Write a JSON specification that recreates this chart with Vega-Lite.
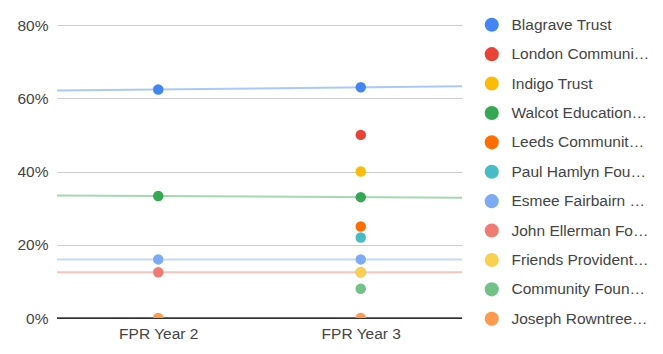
{
  "$schema": "https://vega.github.io/schema/vega-lite/v6.json",
  "autosize": "none",
  "width": 405,
  "height": 293,
  "padding": {"left": 57, "top": 25, "right": 201, "bottom": 36},
  "background": "white",
  "config": {
    "view": {"stroke": null},
    "font": "Liberation Sans",
    "axis": {"labelFont": "Liberation Sans", "labelColor": "#444444", "labelFontSize": 15.5, "ticks": false, "domain": false},
    "axisY": {"grid": true, "gridColor": "#cccccc", "gridWidth": 1},
    "axisX": {"grid": false}
  },
  "data": {
    "values": [
      {"series": "Blagrave Trust", "year": 2, "value": 0.624},
      {"series": "Blagrave Trust", "year": 3, "value": 0.63},
      {"series": "London Community Foundation", "year": 3, "value": 0.5},
      {"series": "Indigo Trust", "year": 3, "value": 0.4},
      {"series": "Walcot Educational Foundation", "year": 2, "value": 0.333},
      {"series": "Walcot Educational Foundation", "year": 3, "value": 0.33},
      {"series": "Leeds Community Foundation", "year": 3, "value": 0.25},
      {"series": "Paul Hamlyn Foundation", "year": 3, "value": 0.22},
      {"series": "Esmee Fairbairn Foundation", "year": 2, "value": 0.16},
      {"series": "Esmee Fairbairn Foundation", "year": 3, "value": 0.16},
      {"series": "John Ellerman Foundation", "year": 2, "value": 0.125},
      {"series": "John Ellerman Foundation", "year": 3, "value": 0.125},
      {"series": "Friends Provident Foundation", "year": 3, "value": 0.125},
      {"series": "Community Foundation Tyne & Wear", "year": 3, "value": 0.08},
      {"series": "Joseph Rowntree Charitable Trust", "year": 2, "value": 0},
      {"series": "Joseph Rowntree Charitable Trust", "year": 3, "value": 0}
    ]
  },
  "layer": [
    {
      "mark": {"type": "rule", "color": "#333333", "strokeWidth": 1},
      "encoding": {"y": {"datum": 0, "type": "quantitative"}}
    },
    {
      "transform": [
        {"filter": {"field": "series", "oneOf": ["Blagrave Trust", "Walcot Educational Foundation", "Esmee Fairbairn Foundation", "John Ellerman Foundation", "Joseph Rowntree Charitable Trust"]}},
        {"regression": "value", "on": "year", "groupby": ["series"], "extent": [1.5, 3.5]}
      ],
      "mark": {"type": "line", "strokeWidth": 2, "strokeOpacity": 0.45, "clip": true},
      "encoding": {
        "x": {"field": "year", "type": "quantitative"},
        "y": {"field": "value", "type": "quantitative"},
        "color": {"field": "series", "type": "nominal"},
        "detail": {"field": "series"}
      }
    },
    {
      "mark": {"type": "point", "filled": true, "opacity": 1, "size": 110, "clip": true},
      "encoding": {
        "x": {
          "field": "year", "type": "quantitative",
          "scale": {"domain": [1.5, 3.5], "nice": false, "zero": false},
          "axis": {"title": null, "values": [2, 3], "labelExpr": "'FPR Year ' + datum.value", "grid": false, "labelPadding": 8}
        },
        "y": {
          "field": "value", "type": "quantitative",
          "scale": {"domain": [0, 0.8], "nice": false},
          "axis": {"title": null, "format": ".0%", "values": [0, 0.2, 0.4, 0.6, 0.8], "grid": true, "labelPadding": 9}
        },
        "color": {
          "field": "series", "type": "nominal",
          "scale": {
            "domain": ["Blagrave Trust", "London Community Foundation", "Indigo Trust", "Walcot Educational Foundation", "Leeds Community Foundation", "Paul Hamlyn Foundation", "Esmee Fairbairn Foundation", "John Ellerman Foundation", "Friends Provident Foundation", "Community Foundation Tyne & Wear", "Joseph Rowntree Charitable Trust"],
            "range": ["#4285F4", "#EA4335", "#FBBC04", "#34A853", "#FF6D01", "#46BDC6", "#7BAAF7", "#F07B72", "#FCD04F", "#71C287", "#FF994D"]
          },
          "legend": {
            "title": null,
            "orient": "none",
            "legendX": 427,
            "legendY": -8,
            "symbolType": "circle",
            "symbolSize": 200,
            "symbolStrokeWidth": 0,
            "symbolOpacity": 1,
            "symbolFillColor": null,
            "labelFont": "Liberation Sans",
            "labelFontSize": 15.5,
            "labelColor": "#444444",
            "labelOffset": 12,
            "labelLimit": 140,
            "rowPadding": 12.4
          }
        }
      }
    }
  ]
}
